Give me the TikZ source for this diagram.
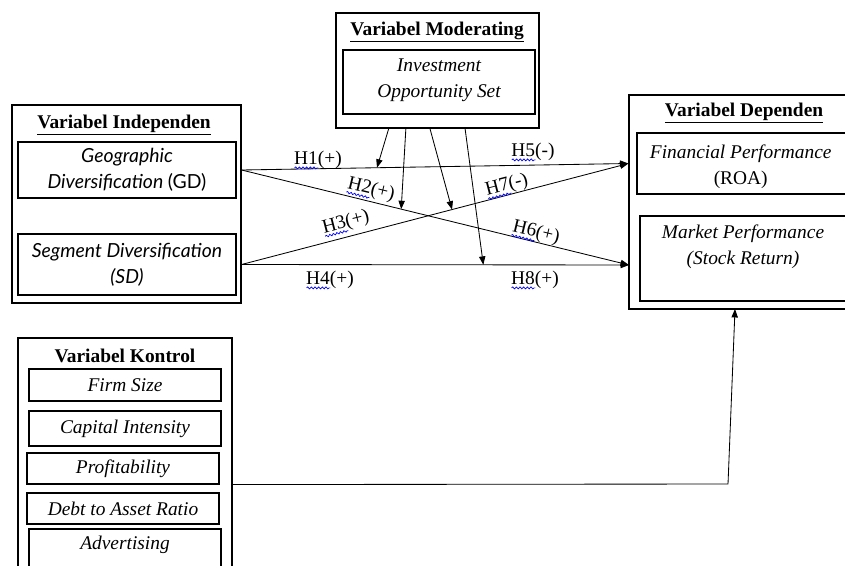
\documentclass[tikz,border=0pt]{standalone}
\usepackage{fontspec}
\setmainfont{Liberation Serif}
\newfontfamily\gothic{Lato}
\usetikzlibrary{arrows.meta,fit,calc,positioning,decorations.pathmorphing}

\newcommand\dfont{\fontsize{13.8}{18.5}\selectfont}
\newsavebox\spellbox
\newcommand\spell[1]{\sbox\spellbox{#1}\rlap{\tikz[baseline=0pt]\draw[blue, line width=0.5pt, decorate,
  decoration={snake, amplitude=0.7pt, segment length=2.6pt}] (0pt,-2.6pt) -- (\wd\spellbox,-2.6pt);}\usebox\spellbox}

\tikzset{
  frame/.style={draw, line width=0.8pt, inner sep=0pt},
  inbox/.style={draw, line width=0.8pt, inner sep=0pt},
  intext/.style={align=center, font=\dfont\itshape, inner sep=0pt},
  title/.style={font=\dfont\bfseries},
  hyp/.style={font=\dfont, inner sep=1pt},
  link/.style={-{Triangle[length=6pt,width=4.5pt]}, line width=0.6pt},
}

\begin{document}
\begin{tikzpicture}[x=0.025cm, y=-0.025cm, font=\dfont]
\useasboundingbox (0,0) rectangle (845,565);
\clip (0,0) rectangle (845,565);

% moderating
\node[frame, fit={(336,13) (539,128)}] (mod) {};
\node[title] (modt) at (437,32) {\underline{Variabel Moderating}};
\node[inbox, fit={(343,50) (535,114)}] (ios) {};
\node[intext] at ([yshift=1pt]ios) {Investment\\Opportunity Set};

% independen
\node[frame, fit={(12,105) (241,303)}] (indep) {};
\node[title] (indept) at (124,125) {\underline{Variabel Independen}};
\node[inbox, fit={(18,142) (236,198)}] (gd) {};
\node[intext, font=\gothic\dfont\itshape] at (gd) {Geographic\\Diversification {\upshape (GD)}};
\node[inbox, fit={(18,234) (236,295)}] (sd) {};
\node[intext, font=\gothic\dfont\itshape] at (sd) {Segment Diversification\\(SD)};

% dependen
\node[frame, fit={(629,95) (850,309)}] (dep) {};
\node[title] (dept) at (744,113) {\underline{Variabel Dependen}};
\node[inbox, fit={(637,133) (850,194)}] (fin) {};
\node[intext] at ([xshift=-2pt,yshift=-2pt]fin) {Financial Performance\\{\upshape (ROA)}};
\node[inbox, fit={(640,216) (850,301)}] (mkt) {};
\node[intext] (mktt) at (743,247) {Market Performance\\(Stock Return)};

% kontrol
\node[frame, fit={(18,338) (232,580)}] (kon) {};
\node[title] (kont) at (125,356) {Variabel Kontrol};
\node[inbox, fit={(29,369) (221,401)}] (size) {};
\node[intext] at (size) {Firm Size};
\node[inbox, fit={(29,411) (221,446)}] (cap) {};
\node[intext] at (cap) {Capital Intensity};
\node[inbox, fit={(27,453) (219,484)}] (prof) {};
\node[intext] at (prof) {Profitability};
\node[inbox, fit={(27,493) (219,524)}] (dar) {};
\node[intext] at (dar) {Debt to Asset Ratio};
\node[inbox, fit={(29,529) (221,580)}] (adv) {};
\node[intext] (advt) at (125,545) {Advertising};

% paths
\coordinate (gdout) at (indep.east |- gd.east);
\coordinate (sdout) at (indep.east |- sd.east);
\coordinate (finin) at (dep.west |- fin.west);
\coordinate (mktin) at (629,265);
\draw[link] (gdout) -- (finin);
\draw[link] (gdout) -- (mktin);
\draw[link] (sdout) -- (finin);
\draw[link] (sdout) -- (mktin);

% moderating effects
\draw[link] ($(mod.south west)!0.261!(mod.south east)$) -- ($(gdout)!0.35!(finin)$);
\draw[link] ($(mod.south west)!0.345!(mod.south east)$) -- ($(gdout)!0.412!(mktin)$);
\draw[link] ($(mod.south west)!0.463!(mod.south east)$) -- ($(sdout)!0.544!(finin)$);
\draw[link] ($(mod.south west)!0.635!(mod.south east)$) -- ($(sdout)!0.624!(mktin)$);

% hypotheses
\node[hyp] (h1) at (318,160) {\spell{H1}(+)};
\node[hyp, rotate=-13.6] (h2) at (371,190) {\spell{H2}(+)};
\node[hyp, rotate=14.5] (h3) at (346,223) {\spell{H3}(+)};
\node[hyp] (h4) at (330,280) {\spell{H4}(+)};
\node[hyp] (h5) at (533,152) {\spell{H5}(-)};
\node[hyp, rotate=-13.6] (h6) at (536,233) {\spell{H6}(+)};
\node[hyp, rotate=14.5] (h7) at (507,186) {\spell{H7}(-)};
\node[hyp] (h8) at (535,280) {\spell{H8}(+)};

% control
\coordinate (turn) at (728,484);
\coordinate (ctrlin) at (735,309);
\draw[link] (kon.east |- prof.south) -- (turn) -- (ctrlin);
\end{tikzpicture}
\end{document}
